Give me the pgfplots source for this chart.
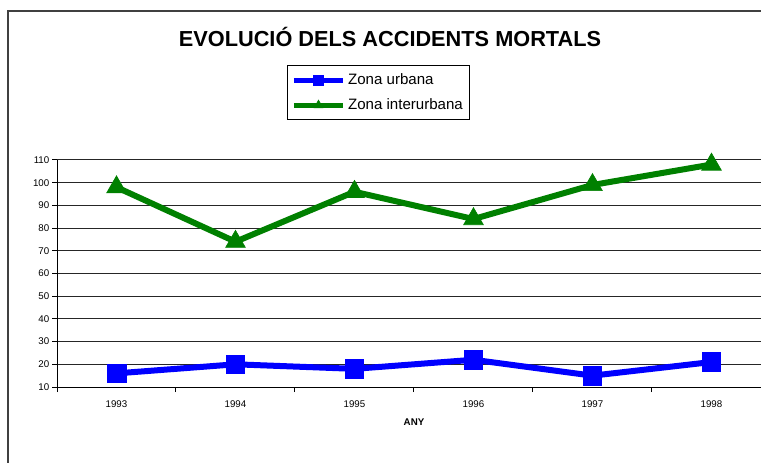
\documentclass[border=0pt]{standalone}
\usepackage{pgfplots}
\pgfplotsset{compat=1.18}
\usepackage{fontspec}
\setmainfont{Liberation Sans}
\definecolor{serblue}{RGB}{0,0,255}
\definecolor{sergreen}{RGB}{0,128,0}
\begin{document}
\begin{tikzpicture}
\useasboundingbox (0,0) rectangle (570.75pt,-347.25pt);
\begin{axis}[
  at={(42.75pt,-290.25pt)}, anchor=south west,
  scale only axis, width=535.5pt, height=170.25pt,
  xmin=-0.5, xmax=5.5, ymin=10, ymax=110,
  xtick={0,...,5}, xticklabels={1993,1994,1995,1996,1997,1998},
  minor xtick={-0.5,0.5,1.5,2.5,3.5,4.5},
  ytick={10,20,...,110},
  major x tick style={draw=none},
  tick align=outside,
  major tick length=3.75pt, minor tick length=3.75pt,
  tick style={black, line width=0.75pt},
  ymajorgrids, grid style={black!85, line width=0.75pt},
  axis x line*=bottom, axis y line*=left,
  axis line style={-, black, line width=0.75pt},
  ticklabel style={font=\fontsize{7.3}{8}\selectfont},
  yticklabel style={xshift=1.5pt},
  xticklabel style={yshift=-3pt},
  /pgf/number format/assume math mode=true,
  xlabel={ANY},
  xlabel style={font=\bfseries\fontsize{7.3}{8}\selectfont, at={(axis description cs:0.5,-0.154)}, anchor=center},
  clip=false,
  legend style={at={(0.3221,1.4185)}, anchor=north west, draw=black, line width=0.75pt,
    font=\fontsize{11.3}{13}\selectfont, cells={anchor=west}, row sep=5pt, inner xsep=3pt, inner ysep=4.25pt},
  legend image code/.code={\draw[#1, line width=3.75pt, mark repeat=2, mark phase=2, mark size=3.75pt]
    plot coordinates {(0pt,0pt) (18.4pt,0pt) (36.75pt,0pt)};},
]
\addplot[serblue, line width=4.5pt, mark=square*, mark size=7pt,
  mark options={solid, line width=0.5pt, rounded corners=1pt}]
  coordinates {(0,16)(1,20)(2,18)(3,22)(4,15)(5,21)};
\addlegendentry{Zona urbana}
\addplot[sergreen, line width=4.5pt, mark=triangle*, mark size=8.5pt,
  mark options={solid, line width=0.5pt}]
  coordinates {(0,98)(1,74)(2,96)(3,84)(4,99)(5,108)};
\addlegendentry{Zona interurbana}
\end{axis}
\begin{scope}[x=0.75pt, y=-0.75pt]
\node[font=\bfseries\fontsize{16.3}{19}\selectfont] at (390,37) {EVOLUCIÓ DELS ACCIDENTS MORTALS};
\draw[black!75, line width=1.1pt] (8,11) rectangle (800,500);
\end{scope}
\end{tikzpicture}
\end{document}
